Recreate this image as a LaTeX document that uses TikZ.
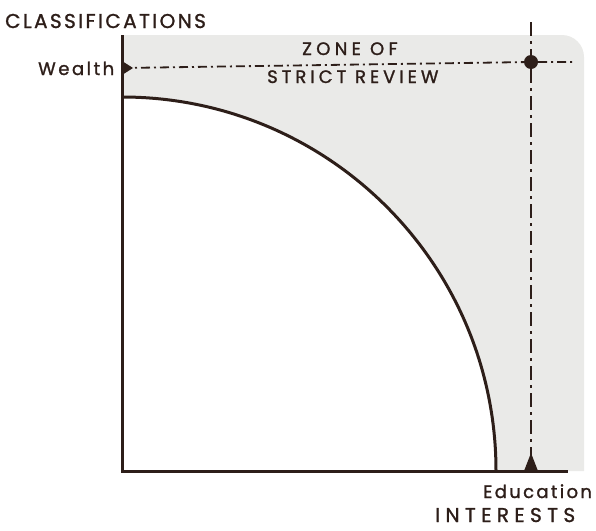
\documentclass[tikz,border=0pt]{standalone}
\usepackage{fontspec}
\setmainfont{Poppins}
\newfontfamily\lab[FakeBold=1.3]{Poppins}
\newcommand\labsz[2]{\lab\fontsize{#1}{#1}\selectfont\addfontfeature{LetterSpace=#2}}
\definecolor{ink}{RGB}{45,30,25}
\definecolor{zone}{RGB}{234,234,232}
\begin{document}
\begin{tikzpicture}[x=1pt,y=-1pt,
  axis/.style={draw=ink,line width=3pt},
  curveline/.style={draw=ink,line width=3pt},
  hguide/.style={draw=ink,line width=1.8pt,dash pattern=on 9pt off 4pt on 2pt off 4pt},
  vguide/.style={draw=ink,line width=2.2pt,dash pattern=on 14pt off 5pt on 3pt off 5pt},
  lbl/.style={inner sep=0pt,text=ink}]
\useasboundingbox (0,0) rectangle (596,530);
% zone of strict review
\fill[zone] (122,97) arc[start angle=-90,end angle=0,radius=374]
  -- (584,471) [rounded corners=22pt] -- (584,35) [sharp corners] -- (122,35) -- cycle;
% named points
\coordinate (O) at (122,471);
\coordinate (ytop) at (122,35);
\coordinate (xend) at (568,471);
\coordinate (wealth) at (122,68);
\coordinate (hend) at (574,62);
\coordinate (vtop) at (531,22);
\coordinate (cstart) at (122,97);
\node[circle,fill=ink,inner sep=0pt,minimum size=14pt] (dot) at (531,62) {};
\coordinate (tri) at (531,471);
% axes
\draw[axis] (ytop) -- (O) -- (xend);
% curve
\draw[curveline] (cstart) arc[start angle=-90,end angle=0,radius=374];
% guides
\draw[hguide] (wealth) -- (dot) -- (hend);
\draw[vguide] (vtop) -- (dot) -- (tri);
% markers
\fill[ink] (122,61) -- (133,68) -- (122,75) -- cycle;
\fill[ink] (tri) ++(-7,0) -- ++(7,-18) -- ++(7,18) -- cycle;
% labels
\node[lbl,anchor=base west,font=\labsz{20}{12}] (cls) at (5,28) {CLASSIFICATIONS};
\node[lbl,anchor=base west,font=\labsz{18}{14}] (wl) at (38,75) {Wealth};
\node[lbl,anchor=base west,font=\labsz{18}{24}] (z1) at (302,55) {ZONE OF};
\node[lbl,anchor=base west,font=\labsz{18}{22}] (z2) at (267,83) {STRICT REVIEW};
\node[lbl,anchor=base west,font=\labsz{18}{13}] (ed) at (483,498) {Education};
\node[lbl,anchor=base west,font=\labsz{20}{27}] (in) at (435,522) {INTERESTS};
\end{tikzpicture}
\end{document}
